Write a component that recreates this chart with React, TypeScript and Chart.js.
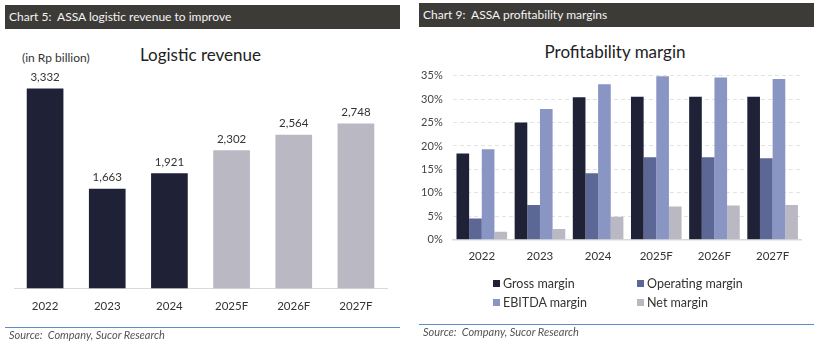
import React, { useEffect, useRef } from 'react';
import { Chart, registerables } from 'chart.js';
Chart.register(...registerables);

const FONT = 'Lato, "Open Sans", sans-serif';

// Left chart data
const revenueYears = ['2022', '2023', '2024', '2025F', '2026F', '2027F'];
const revenueValues = [3332, 1663, 1921, 2302, 2564, 2748];
const revenueColors = ['#1f2237', '#1f2237', '#1f2237', '#b9b8c3', '#b9b8c3', '#b9b8c3'];

// Right chart data
const marginYears = ['2022', '2023', '2024', '2025F', '2026F', '2027F'];
const marginSeries = ['Gross margin', 'Operating margin', 'EBITDA margin', 'Net margin'];
const grossMargin = [18.4, 25.0, 30.4, 30.5, 30.5, 30.5];
const operatingMargin = [4.5, 7.4, 14.2, 17.6, 17.6, 17.4];
const ebitdaMargin = [19.3, 27.9, 33.2, 34.9, 34.6, 34.3];
const netMargin = [1.7, 2.3, 4.9, 7.1, 7.3, 7.4];
const marginColors = ['#1f2237', '#5c6795', '#8995c3', '#b9b8c3'];

const valueLabelPlugin = {
  id: 'valueLabels',
  afterDatasetsDraw(chart: any) {
    const ctx = chart.ctx;
    const meta = chart.getDatasetMeta(0);
    const data = chart.data.datasets[0].data;
    ctx.save();
    ctx.font = `11.5px ${FONT}`;
    ctx.fillStyle = '#333333';
    ctx.textAlign = 'center';
    ctx.textBaseline = 'middle';
    meta.data.forEach((bar: any, i: number) => {
      ctx.fillText(Number(data[i]).toLocaleString('en-US'), bar.x, bar.y - 11);
    });
    ctx.restore();
  },
};

function RevenueChart() {
  const ref = useRef<HTMLCanvasElement>(null);
  useEffect(() => {
    const chart = new Chart(ref.current!, {
      type: 'bar',
      data: {
        labels: revenueYears,
        datasets: [
          {
            data: revenueValues,
            backgroundColor: revenueColors,
            categoryPercentage: 1,
            barPercentage: 0.59,
            borderWidth: 0,
          },
        ],
      },
      options: {
        animation: false,
        responsive: false,
        maintainAspectRatio: false,
        layout: { padding: { left: 14, right: 18, top: 42.5, bottom: 5.8 } },
        plugins: { legend: { display: false }, tooltip: { enabled: false } },
        scales: {
          x: {
            grid: { display: false, drawTicks: false },
            border: { display: true, color: '#d9d9d9', width: 1 },
            ticks: { color: '#333333', font: { family: FONT, size: 11.5 }, padding: 11 },
          },
          y: { display: false, min: 0, max: 3600 },
        },
      },
      plugins: [valueLabelPlugin],
    });
    return () => chart.destroy();
  }, []);
  return (
    <canvas
      ref={ref}
      width={405}
      height={300}
      style={{ position: 'absolute', left: 0, top: 30, width: 405, height: 300 }}
    />
  );
}

function MarginChart() {
  const ref = useRef<HTMLCanvasElement>(null);
  useEffect(() => {
    const seriesData = [grossMargin, operatingMargin, ebitdaMargin, netMargin];
    const chart = new Chart(ref.current!, {
      type: 'bar',
      data: {
        labels: marginYears,
        datasets: marginSeries.map((name, i) => ({
          label: name,
          data: seriesData[i],
          backgroundColor: marginColors[i],
          categoryPercentage: 0.87,
          barPercentage: 1,
          borderWidth: 0,
        })),
      },
      options: {
        animation: false,
        responsive: false,
        maintainAspectRatio: false,
        layout: { padding: { left: 0, right: 21.3, top: 45.7, bottom: 6.9 } },
        plugins: { legend: { display: false }, tooltip: { enabled: false } },
        scales: {
          x: {
            grid: { display: false, drawTicks: false },
            border: { display: true, color: '#d9d9d9', width: 1.5 },
            ticks: { color: '#333333', font: { family: FONT, size: 11.5 }, padding: 9.8 },
          },
          y: {
            min: 0,
            max: 35,
            afterFit: (s: any) => {
              s.width = 42.7;
            },
            grid: { color: '#e3e3e3', drawTicks: false },
            border: { display: false, dash: [4, 3] },
            ticks: {
              stepSize: 5,
              color: '#444444',
              padding: 10,
              font: { family: FONT, size: 11 },
              callback: (v: any) => `${v}%`,
            },
          },
        },
      },
    });
    return () => chart.destroy();
  }, []);
  return (
    <canvas
      ref={ref}
      width={413}
      height={250}
      style={{ position: 'absolute', left: 410, top: 30, width: 413, height: 250 }}
    />
  );
}

const headerStyle: React.CSSProperties = {
  position: 'absolute',
  background: '#3d3b38',
  color: '#f4f4f4',
  fontFamily: FONT,
  fontSize: 12,
  lineHeight: '24px',
  height: 24,
  paddingLeft: 4,
  boxSizing: 'border-box',
  whiteSpace: 'nowrap',
};

const sourceStyle: React.CSSProperties = {
  position: 'absolute',
  fontFamily: FONT,
  fontStyle: 'italic',
  fontSize: 11,
  color: '#555555',
  whiteSpace: 'nowrap',
  lineHeight: '13px',
};

export default function App() {
  return (
    <div
      style={{
        position: 'fixed',
        left: 0,
        top: 0,
        width: 823,
        height: 352,
        background: '#ffffff',
        overflow: 'hidden',
        fontFamily: FONT,
      }}
    >
      {/* Left panel */}
      <div style={{ ...headerStyle, left: 5, top: 5, width: 395 }}>Chart 5:&nbsp; ASSA logistic revenue to improve</div>
      <div
        style={{
          position: 'absolute',
          left: 0,
          width: 401,
          top: 44,
          textAlign: 'center',
          fontSize: 17,
          color: '#222222',
          lineHeight: '22px',
        }}
      >
        Logistic revenue
      </div>
      <div style={{ position: 'absolute', left: 22, top: 51, fontSize: 12, color: '#333333', lineHeight: '14px' }}>
        (in Rp billion)
      </div>
      <RevenueChart />
      <div style={{ position: 'absolute', left: 5, top: 327, width: 395, height: 1, background: '#5b8bc9' }} />
      <div style={{ ...sourceStyle, left: 9, top: 328 }}>Source:&nbsp; Company, Sucor Research</div>

      {/* Right panel */}
      <div style={{ ...headerStyle, left: 419, top: 3, width: 395 }}>Chart 9:&nbsp; ASSA profitability margins</div>
      <div
        style={{
          position: 'absolute',
          left: 415,
          width: 400,
          top: 41,
          textAlign: 'center',
          fontSize: 17,
          color: '#222222',
          lineHeight: '22px',
        }}
      >
        Profitability margin
      </div>
      <MarginChart />
      {marginSeries.map((name, i) => (
        <div
          key={name}
          style={{
            position: 'absolute',
            left: i % 2 === 0 ? 493 : 637,
            top: i < 2 ? 275 : 294,
            height: 16,
            display: 'flex',
            alignItems: 'center',
            fontSize: 12.5,
            color: '#333333',
            whiteSpace: 'nowrap',
          }}
        >
          <span style={{ display: 'inline-block', width: 7, height: 7, background: marginColors[i], marginRight: 3 }} />
          {name}
        </div>
      ))}
      <div style={{ position: 'absolute', left: 419, top: 324, width: 395, height: 1, background: '#5b8bc9' }} />
      <div style={{ ...sourceStyle, left: 423, top: 325 }}>Source:&nbsp; Company, Sucor Research</div>
    </div>
  );
}
